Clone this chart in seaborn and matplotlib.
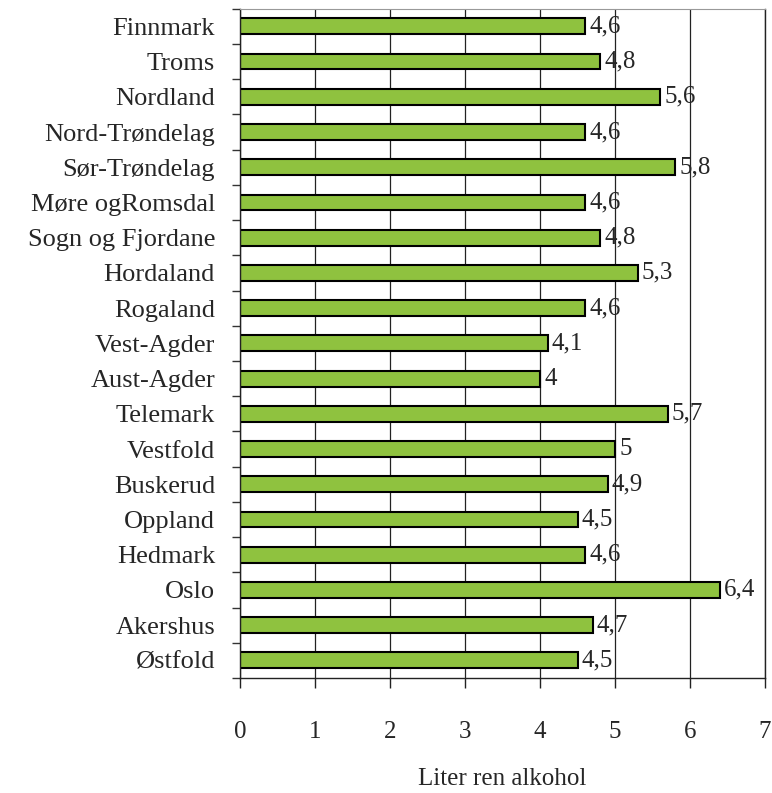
import matplotlib
matplotlib.use("Agg")
import matplotlib.pyplot as plt
import seaborn as sns
import pandas as pd
import numpy as np

# fylker, ovenfra og ned
fylker = ["Finnmark", "Troms", "Nordland", "Nord-Trøndelag", "Sør-Trøndelag",
          "Møre ogRomsdal", "Sogn og Fjordane", "Hordaland", "Rogaland",
          "Vest-Agder", "Aust-Agder", "Telemark", "Vestfold", "Buskerud",
          "Oppland", "Hedmark", "Oslo", "Akershus", "Østfold"]
liter = [4.6, 4.8, 5.6, 4.6, 5.8, 4.6, 4.8, 5.3, 4.6, 4.1, 4.0, 5.7, 5.0,
         4.9, 4.5, 4.6, 6.4, 4.7, 4.5]
x_ticks = [0, 1, 2, 3, 4, 5, 6, 7]

df = pd.DataFrame({"fylke": fylker, "liter": liter})

sns.set_style("white")
plt.rcParams["font.family"] = ["Liberation Serif", "DejaVu Serif"]

fig = plt.figure(figsize=(7.72, 7.93), dpi=100)
ax = fig.add_axes([0.311, 0.145, 0.68, 0.844])

sns.barplot(data=df, x="liter", y="fylke", orient="h", color="#8fc23f",
            edgecolor="black", linewidth=1.5, width=0.45, saturation=1, ax=ax)

ax.set_xlim(0, 7)
ax.set_ylim(len(fylker) - 0.5, -0.5)
ax.set_xticks(x_ticks)
ax.set_xticklabels([str(t) for t in x_ticks])
ax.xaxis.grid(True, color="#222222", linewidth=0.9)
ax.set_axisbelow(True)

# verdietiketter med komma
for i, v in enumerate(liter):
    txt = f"{v:g}".replace(".", ",")
    ax.annotate(txt, (v, i), xytext=(3, 0), textcoords="offset points",
                va="center", ha="left", fontsize=18)

# tick-merker mellom kategoriene
ax.set_yticks(np.arange(-0.5, len(fylker), 1), minor=True)
ax.tick_params(axis="y", which="major", length=0, pad=18, labelsize=19)
ax.tick_params(axis="y", which="minor", length=6, width=1, direction="out",
               left=True, color="#333333")
ax.tick_params(axis="x", which="major", length=7, width=1, direction="out",
               bottom=True, pad=24, labelsize=18, color="#222222")

for s in ["left", "bottom", "right"]:
    ax.spines[s].set_color("#222222")
    ax.spines[s].set_linewidth(1)
ax.spines["top"].set_color("#999999")

ax.set_ylabel("")
ax.set_xlabel("Liter ren alkohol", fontsize=18, labelpad=18)

fig.savefig("out.png", dpi=100)
